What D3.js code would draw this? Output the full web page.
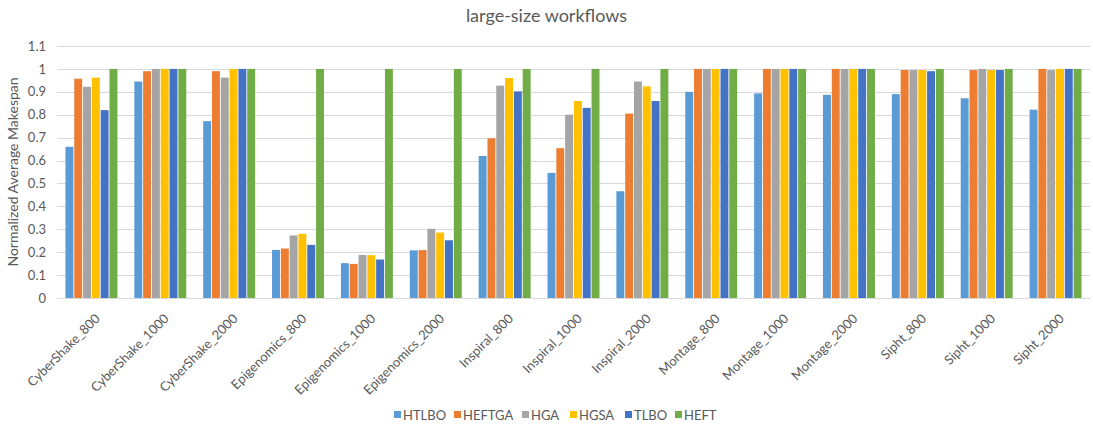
<!DOCTYPE html>
<html>
<head>
<meta charset="utf-8">
<script src="https://cdn.jsdelivr.net/npm/d3@7"></script>
<style>
  body { margin: 0; background: #fff; }
  text { font-family: Lato, "Open Sans", sans-serif; fill: #595959; }
</style>
</head>
<body>
<div id="chart"></div>
<script>
// workflow categories
const categories = [
  'CyberShake_800', 'CyberShake_1000', 'CyberShake_2000',
  'Epigenomics_800', 'Epigenomics_1000', 'Epigenomics_2000',
  'Inspiral_800', 'Inspiral_1000', 'Inspiral_2000',
  'Montage_800', 'Montage_1000', 'Montage_2000',
  'Sipht_800', 'Sipht_1000', 'Sipht_2000'
];
const seriesNames = ['HTLBO', 'HEFTGA', 'HGA', 'HGSA', 'TLBO', 'HEFT'];
const colors = ['#5b9bd5', '#ed7d31', '#a5a5a5', '#ffc000', '#4472c4', '#70ad47'];

const HTLBO  = [0.66, 0.945, 0.772, 0.21, 0.152, 0.208, 0.62, 0.546, 0.466, 0.90, 0.893, 0.887, 0.89, 0.872, 0.822];
const HEFTGA = [0.957, 0.99, 0.99, 0.216, 0.149, 0.209, 0.697, 0.654, 0.805, 1, 1, 1, 0.995, 0.995, 1];
const HGA    = [0.922, 1, 0.962, 0.273, 0.188, 0.302, 0.927, 0.80, 0.945, 1, 1, 1, 0.995, 1, 0.995];
const HGSA   = [0.962, 1, 1, 0.28, 0.187, 0.286, 0.96, 0.86, 0.924, 1, 1, 1, 0.995, 0.995, 1];
const TLBO   = [0.82, 1, 1, 0.232, 0.168, 0.252, 0.902, 0.83, 0.86, 1, 1, 1, 0.99, 0.995, 1];
const HEFT   = [1, 1, 1, 1, 1, 1, 1, 1, 1, 1, 1, 1, 1, 1, 1];

const yTicks = [0, 0.1, 0.2, 0.3, 0.4, 0.5, 0.6, 0.7, 0.8, 0.9, 1, 1.1];

const seriesValues = [HTLBO, HEFTGA, HGA, HGSA, TLBO, HEFT];

const width = 1093, height = 427;
const margin = { top: 46, right: 3, bottom: 129, left: 57 };

const svg = d3.select('#chart').append('svg')
    .attr('width', width)
    .attr('height', height);

const x0 = d3.scaleBand()
    .domain(categories)
    .range([margin.left, width - margin.right])
    .paddingInner(0.22)
    .paddingOuter(0.11);

const x1 = d3.scaleBand()
    .domain(seriesNames)
    .range([0, x0.bandwidth()])
    .padding(0.1);

const y = d3.scaleLinear()
    .domain([0, 1.1])
    .range([height - margin.bottom, margin.top]);

// gridlines
svg.append('g')
    .selectAll('line')
    .data(yTicks)
    .join('line')
    .attr('x1', margin.left)
    .attr('x2', width - margin.right)
    .attr('y1', d => Math.round(y(d)) + 0.5)
    .attr('y2', d => Math.round(y(d)) + 0.5)
    .attr('stroke', '#d9d9d9')
    .attr('stroke-width', 1);

// y axis labels
const yAxis = svg.append('g')
    .attr('transform', `translate(${margin.left - 11},0)`)
    .call(d3.axisLeft(y).tickValues(yTicks).tickSize(0).tickFormat(d3.format('~g')));
yAxis.select('.domain').remove();
yAxis.selectAll('text')
    .attr('x', 0)
    .style('font-size', '13px')
    .style('font-family', 'Lato, sans-serif')
    .attr('fill', '#595959');

// bars
const groups = svg.append('g')
    .selectAll('g')
    .data(categories)
    .join('g')
    .attr('transform', d => `translate(${x0(d)},0)`);

groups.selectAll('rect')
    .data((c, i) => seriesNames.map((s, j) => ({ s, v: seriesValues[j][i], j })))
    .join('rect')
    .attr('x', d => x1(d.s))
    .attr('width', x1.bandwidth())
    .attr('y', d => y(d.v))
    .attr('height', d => y(0) - y(d.v))
    .attr('fill', d => colors[d.j]);

// x axis labels
const xAxis = svg.append('g')
    .attr('transform', `translate(0,${y(0)})`)
    .call(d3.axisBottom(x0).tickSize(0));
xAxis.select('.domain').remove();
xAxis.selectAll('text')
    .style('font-size', '13px')
    .style('font-family', 'Lato, sans-serif')
    .attr('fill', '#595959')
    .attr('text-anchor', 'end')
    .attr('dy', '0.35em')
    .attr('transform', 'translate(4,16) rotate(-45)');

// title
svg.append('text')
    .attr('x', width / 2)
    .attr('y', 22)
    .attr('text-anchor', 'middle')
    .style('font-size', '18px')
    .text('large-size workflows');

// y axis title
svg.append('text')
    .attr('transform', `translate(18,${(y(0) + y(1.1)) / 2}) rotate(-90)`)
    .attr('text-anchor', 'middle')
    .style('font-size', '14px')
    .text('Normalized Average Makespan');

// legend
const legendX = [394, 454, 522, 570, 625, 675];
const legend = svg.append('g')
    .selectAll('g')
    .data(seriesNames)
    .join('g')
    .attr('transform', (d, i) => `translate(${legendX[i]},415)`);
legend.append('rect')
    .attr('x', 0).attr('y', -4)
    .attr('width', 7).attr('height', 7)
    .attr('fill', (d, i) => colors[i]);
legend.append('text')
    .attr('x', 9)
    .attr('dy', '0.35em')
    .style('font-size', '13px')
    .text(d => d);
</script>
</body>
</html>
